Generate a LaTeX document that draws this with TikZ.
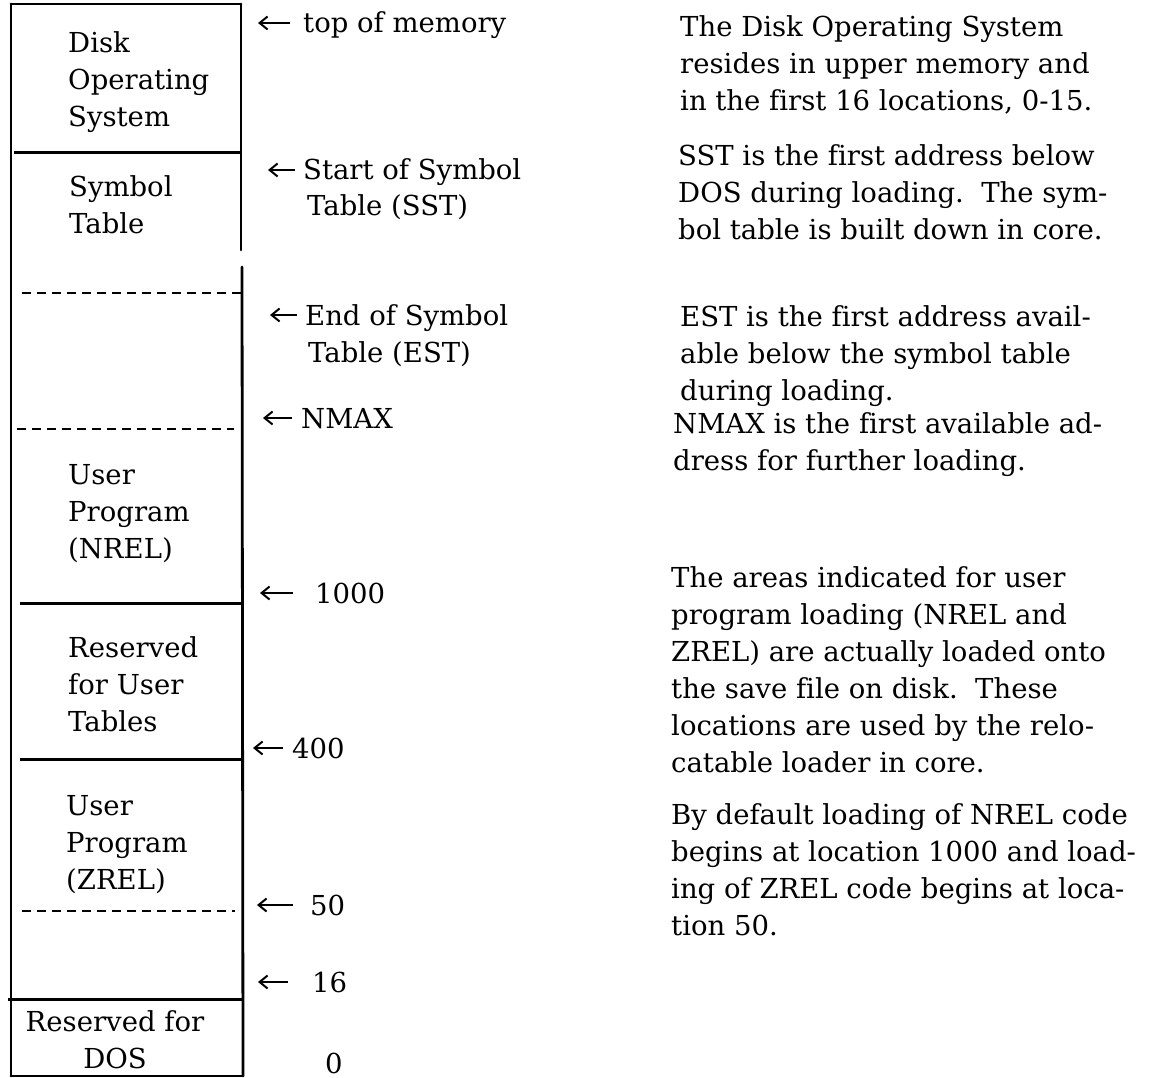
\documentclass[tikz,border=0pt]{standalone}
\usepackage{fontspec}
\setmainfont[Ligatures=NoCommon]{DejaVu Serif}
\usetikzlibrary{arrows.meta}

\tikzset{
  frame/.style={line width=2.8pt, line cap=round},
  divider/.style={line width=3pt},
  dashdiv/.style={line width=2.5pt, dash pattern=on 9pt off 6pt},
  cell/.style={inner sep=0pt, anchor=base west, align=left},
  addr/.style={inner sep=0pt, anchor=base west, text height=22pt, text depth=2pt},
  para/.style={inner sep=0pt, anchor=base west, align=left},
  ptr/.style={-{Straight Barb[length=8pt,width=13pt]}, line width=2pt}
}

\begin{document}
\begin{tikzpicture}[x=1pt, y=-1pt, font=\fontsize{27.5}{37}\selectfont]
  \useasboundingbox (0,0) rectangle (1149,1078);

  % Memory column: outer frame
  \draw[frame] (11,4) -- (11,1076);
  \draw[frame] (241,4) -- (241,250);
  \draw[frame] (242,267) -- (243,1076);
  \draw[frame] (11,4) -- (241,4);
  \draw[frame] (11,1076) -- (243,1076);

  % Boundaries between the areas
  \draw[divider] (14,153) -- (241,153);
  \draw[dashdiv] (22,293) -- (241,293);
  \draw[dashdiv] (17,429) -- (234,429);
  \draw[divider] (20,603) -- (243,603);
  \draw[divider] (20,759) -- (243,759);
  \draw[dashdiv] (22,911) -- (235,911);
  \draw[divider] (8,999) -- (243,999);

  % Names of the areas (placed by the baseline of their last line)
  \node[cell] (dos) at (68,127) {Disk\\Operating\\System};
  \node[cell] (symtab) at (69,234) {Symbol\\Table};
  \node[cell] (nrel) at (68,558) {User\\Program\\(NREL)};
  \node[cell] (usrtab) at (68,731) {Reserved\\for User\\Tables};
  \node[cell] (zrel) at (66,889) {User\\Program\\(ZREL)};
  \node[inner sep=0pt, anchor=base, align=center] (dosres) at (115,1068) {Reserved for\\DOS};

  % Addresses
  \node[addr] (toplbl) at (303,33) {top of memory};
  \node[addr] (sstlbl) at (303,180) {Start of Symbol};
  \node[addr] (sstlbl2) at (307,216) {Table (SST)};
  \node[addr] (estlbl) at (305,325) {End of Symbol};
  \node[addr] (estlbl2) at (308,362) {Table (EST)};
  \node[addr] (nmaxlbl) at (301,428) {NMAX};
  \node[addr] (k1000) at (315,603) {1000};
  \node[addr] (k400) at (292,758) {400};
  \node[addr] (k50) at (310,915) {50};
  \node[addr] (k16) at (312,992) {16};
  \node[addr] (k0) at (325,1073) {0};

  \coordinate (toptip) at (258,23);
  \coordinate (ssttip) at (268,170);
  \coordinate (esttip) at (270,315);
  \coordinate (nmaxtip) at (263,418);
  \coordinate (tip1000) at (260,593);
  \coordinate (tip400) at (253,748);
  \coordinate (tip50) at (257,905);
  \coordinate (tip16) at (258,982);

  \draw[ptr, shorten <=13pt] (toplbl.west) -- (toptip);
  \draw[ptr, shorten <=8pt] (sstlbl.west) -- (ssttip);
  \draw[ptr, shorten <=8pt] (estlbl.west) -- (esttip);
  \draw[ptr, shorten <=9pt] (nmaxlbl.west) -- (nmaxtip);
  \draw[ptr, shorten <=22pt] (k1000.west) -- (tip1000);
  \draw[ptr, shorten <=9pt] (k400.west) -- (tip400);
  \draw[ptr, shorten <=17pt] (k50.west) -- (tip50);
  \draw[ptr, shorten <=24pt] (k16.west) -- (tip16);

  % Notes on the right (placed by the baseline of their last line)
  \node[para] (note1) at (680,111) {The Disk Operating System\\resides in upper memory and\\in the first 16 locations, 0-15.};
  \node[para] (note2) at (678,240) {SST is the first address below\\DOS during loading.\ \ The sym-\\bol table is built down in core.};
  \node[para] (note3) at (680,400) {EST is the first address avail-\\able below the symbol table\\during loading.};
  \node[para] (note4) at (673,470) {NMAX is the first available ad-\\dress for further loading.};
  \node[para] (note5) at (671,772) {The areas indicated for user\\program loading (NREL and\\ZREL) are actually loaded onto\\the save file on disk.\ \ These\\locations are used by the relo-\\catable loader in core.};
  \node[para] (note6) at (671,935) {By default loading of NREL code\\begins at location 1000 and load-\\ing of ZREL code begins at loca-\\tion 50.};
\end{tikzpicture}
\end{document}
